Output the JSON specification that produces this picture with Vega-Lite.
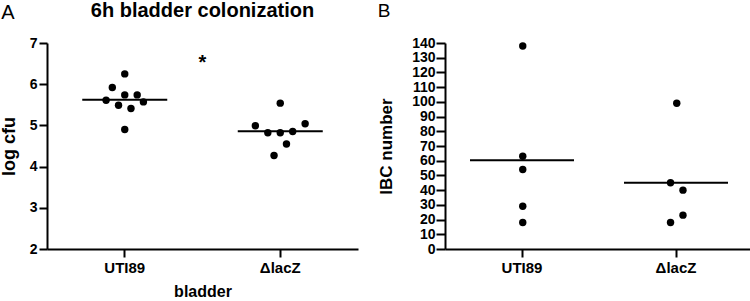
{
  "$schema": "https://vega.github.io/schema/vega-lite/v6.json",
  "padding": {"left": 0, "top": 1, "right": 0, "bottom": 0},
  "background": "white",
  "title": {"text": "A", "anchor": "start", "frame": "bounds", "fontSize": 20, "fontWeight": "normal", "font": "Liberation Sans", "offset": -22, "color": "black", "dx": 1},
  "datasets": {
    "cfu": [
      {"group": "UTI89", "jitter": 0, "value": 6.25},
      {"group": "UTI89", "jitter": -2, "value": 5.92},
      {"group": "UTI89", "jitter": -3, "value": 5.61},
      {"group": "UTI89", "jitter": 0, "value": 5.74},
      {"group": "UTI89", "jitter": 2, "value": 5.74},
      {"group": "UTI89", "jitter": 3, "value": 5.57},
      {"group": "UTI89", "jitter": -1, "value": 5.49},
      {"group": "UTI89", "jitter": 1, "value": 5.41},
      {"group": "UTI89", "jitter": 0, "value": 4.9},
      {"group": "ΔlacZ", "jitter": 0, "value": 5.54},
      {"group": "ΔlacZ", "jitter": -4, "value": 4.99},
      {"group": "ΔlacZ", "jitter": 4, "value": 5.04},
      {"group": "ΔlacZ", "jitter": -2, "value": 4.82},
      {"group": "ΔlacZ", "jitter": 0, "value": 4.82},
      {"group": "ΔlacZ", "jitter": 2, "value": 4.85},
      {"group": "ΔlacZ", "jitter": 1, "value": 4.55},
      {"group": "ΔlacZ", "jitter": -1, "value": 4.27}
    ],
    "ibc": [
      {"group": "UTI89", "jitter": 0, "value": 138},
      {"group": "UTI89", "jitter": 0, "value": 63},
      {"group": "UTI89", "jitter": 0, "value": 54},
      {"group": "UTI89", "jitter": 0, "value": 29},
      {"group": "UTI89", "jitter": 0, "value": 18},
      {"group": "ΔlacZ", "jitter": 0, "value": 99},
      {"group": "ΔlacZ", "jitter": -1, "value": 45},
      {"group": "ΔlacZ", "jitter": 1, "value": 40},
      {"group": "ΔlacZ", "jitter": 1, "value": 23},
      {"group": "ΔlacZ", "jitter": -1, "value": 18}
    ],
    "signif": [
      {"group": "UTI89", "jitter": 12.5, "value": 6.6, "label": "*"}
    ]
  },
  "config": {
    "font": "Liberation Sans",
    "view": {"stroke": null},
    "axis": {
      "grid": false,
      "domainColor": "black",
      "domainWidth": 2,
      "tickColor": "black",
      "tickWidth": 2,
      "tickSize": 8,
      "labelFont": "Liberation Sans",
      "labelFontWeight": "bold",
      "labelColor": "black",
      "titleFont": "Liberation Sans",
      "titleFontWeight": "bold",
      "titleColor": "black",
      "titleFontSize": 17
    },
    "title": {"font": "Liberation Sans", "color": "black"},
    "concat": {"spacing": 19}
  },
  "hconcat": [
    {
      "width": 311,
      "height": 206,
      "title": {"text": "6h bladder colonization", "fontSize": 20, "fontWeight": "bold", "anchor": "middle", "frame": "group", "offset": 15},
      "data": {"name": "cfu"},
      "encoding": {
        "x": {"field": "group", "type": "nominal", "sort": ["UTI89", "ΔlacZ"],
              "scale": {"paddingInner": 0, "paddingOuter": 0},
              "axis": {"title": "bladder", "labelAngle": 0, "labelFontSize": 15, "labelPadding": 3, "titlePadding": 8, "titleFontSize": 16}},
        "y": {"field": "value", "type": "quantitative",
              "scale": {"domain": [2, 7], "nice": false, "zero": false},
              "axis": {"title": "log cfu", "titleFontSize": 18, "values": [2, 3, 4, 5, 6, 7], "labelFontSize": 14, "labelPadding": 2, "titlePadding": 11}}
      },
      "layer": [
        {
          "mark": {"type": "point", "filled": true, "color": "black", "opacity": 1, "size": 55},
          "encoding": {"xOffset": {"field": "jitter", "type": "quantitative", "scale": {"domain": [-12.5, 12.5]}}}
        },
        {
          "mark": {"type": "tick", "color": "black", "size": 85, "thickness": 2, "opacity": 1},
          "encoding": {"y": {"aggregate": "mean", "field": "value", "type": "quantitative"}}
        },
        {
          "data": {"name": "signif"},
          "mark": {"type": "text", "fontSize": 20, "fontWeight": "bold", "color": "black", "baseline": "middle", "dy": 4},
          "encoding": {
            "xOffset": {"field": "jitter", "type": "quantitative", "scale": {"domain": [-12.5, 12.5]}},
            "text": {"field": "label"}
          }
        }
      ]
    },
    {
      "width": 308,
      "height": 206,
      "title": {"text": "B", "fontSize": 19, "fontWeight": "normal", "anchor": "start", "frame": "bounds", "offset": 15},
      "data": {"name": "ibc"},
      "encoding": {
        "x": {"field": "group", "type": "nominal", "sort": ["UTI89", "ΔlacZ"],
              "scale": {"paddingInner": 0, "paddingOuter": 0},
              "axis": {"title": null, "labelAngle": 0, "labelFontSize": 15, "labelPadding": 3}},
        "y": {"field": "value", "type": "quantitative",
              "scale": {"domain": [0, 140], "nice": false},
              "axis": {"title": "IBC number", "values": [0, 10, 20, 30, 40, 50, 60, 70, 80, 90, 100, 110, 120, 130, 140], "labelFontSize": 14, "labelPadding": 1, "tickSize": 9, "titlePadding": 16}}
      },
      "layer": [
        {
          "mark": {"type": "point", "filled": true, "color": "black", "opacity": 1, "size": 55},
          "encoding": {"xOffset": {"field": "jitter", "type": "quantitative", "scale": {"domain": [-12.5, 12.5]}}}
        },
        {
          "mark": {"type": "tick", "color": "black", "size": 104, "thickness": 2, "opacity": 1},
          "encoding": {"y": {"aggregate": "mean", "field": "value", "type": "quantitative"}}
        }
      ]
    }
  ]
}
